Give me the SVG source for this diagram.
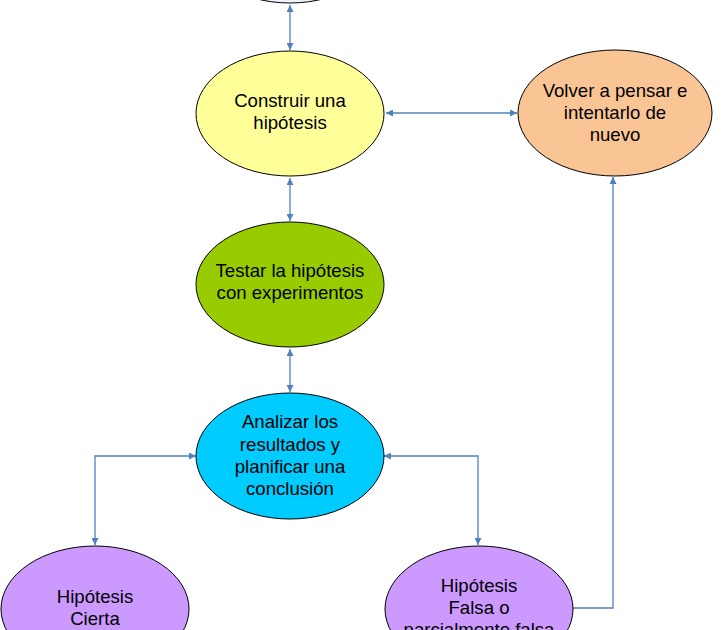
<svg xmlns="http://www.w3.org/2000/svg" width="722" height="630" viewBox="0 0 722 630">
<style>
.node ellipse{stroke:#000;stroke-width:1}
.node text{font-family:"Liberation Sans",Arial,sans-serif;font-size:18.6px;fill:#000;text-anchor:middle}
.conn path{fill:none;stroke:#4f81bd;stroke-width:1.3}
</style>
<defs>
<marker id="ah" viewBox="0 0 10 10" refX="10" refY="5" markerUnits="userSpaceOnUse" markerWidth="9" markerHeight="7" orient="auto-start-reverse">
<path d="M0,0 L10,5 L0,10 z" fill="#4f81bd"/>
</marker>
</defs>
<rect width="722" height="630" fill="#fff"/>
<g class="conn">
<path d="M290,5 V50" marker-start="url(#ah)" marker-end="url(#ah)"/>
<path d="M386,113 H517" marker-start="url(#ah)" marker-end="url(#ah)"/>
<path d="M290,178 V221" marker-start="url(#ah)" marker-end="url(#ah)"/>
<path d="M290,349 V392" marker-start="url(#ah)" marker-end="url(#ah)"/>
<path d="M196,456 H95 V545" marker-start="url(#ah)" marker-end="url(#ah)"/>
<path d="M384,456 H478 V545" marker-start="url(#ah)" marker-end="url(#ah)"/>
<path d="M573,608 H613 V177" marker-end="url(#ah)"/>
</g>
<g id="top" class="node">
<ellipse cx="290" cy="-60" rx="94" ry="63" fill="#eef2fa"/>
</g>
<g id="construir" class="node">
<ellipse cx="290" cy="113.5" rx="94" ry="62.5" fill="#ffff99"/>
<text x="290" y="107">Construir una</text>
<text x="290" y="129">hipótesis</text>
</g>
<g id="volver" class="node">
<ellipse cx="615" cy="113" rx="97" ry="63" fill="#fac595"/>
<text x="615" y="97">Volver a pensar e</text>
<text x="615" y="119">intentarlo de</text>
<text x="615" y="141">nuevo</text>
</g>
<g id="testar" class="node">
<ellipse cx="290" cy="284.5" rx="94" ry="62.5" fill="#99cc00"/>
<text x="290" y="277">Testar la hipótesis</text>
<text x="290" y="299">con experimentos</text>
</g>
<g id="analizar" class="node">
<ellipse cx="290" cy="456" rx="94" ry="63" fill="#00ccff"/>
<text x="290" y="428">Analizar los</text>
<text x="290" y="451">resultados y</text>
<text x="290" y="473">planificar una</text>
<text x="290" y="495">conclusión</text>
</g>
<g id="cierta" class="node">
<ellipse cx="95" cy="609" rx="94" ry="63" fill="#cc99ff"/>
<text x="95" y="603">Hipótesis</text>
<text x="95" y="625">Cierta</text>
</g>
<g id="falsa" class="node">
<ellipse cx="479" cy="609" rx="94" ry="63" fill="#cc99ff"/>
<text x="479" y="592">Hipótesis</text>
<text x="479" y="614">Falsa o</text>
<text x="479" y="636">parcialmente falsa</text>
</g>
</svg>
